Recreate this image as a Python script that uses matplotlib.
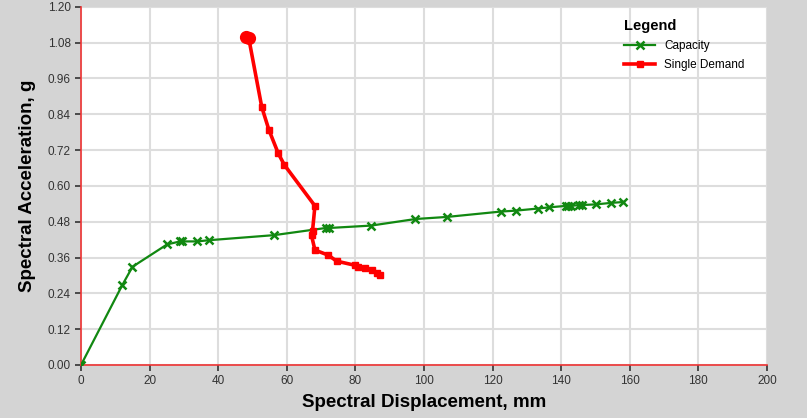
import numpy as np
import matplotlib.pyplot as plt

plt.rcParams['font.family'] = ['Liberation Sans', 'DejaVu Sans']

# Capacity curve (mm, g)
cap_sd = [0.0, 12.0, 15.0, 25.1, 28.9, 29.5, 33.9, 37.3, 56.3, 71.4, 72.4, 84.6,
          97.5, 106.7, 122.4, 126.7, 133.1, 136.4, 141.4, 142.1, 142.8, 145.3,
          146.2, 150.1, 154.5, 158.1]
cap_sa = [0.0, 0.267, 0.329, 0.404, 0.414, 0.414, 0.414, 0.418, 0.435, 0.459, 0.459, 0.467,
          0.489, 0.496, 0.514, 0.517, 0.524, 0.528, 0.533, 0.533, 0.533, 0.536,
          0.536, 0.538, 0.543, 0.546]

# Single demand curve (mm, g)
dem_sd = [48.2, 48.9, 52.7, 54.8, 57.5, 59.3, 68.2, 67.5, 67.2, 68.2, 72.1, 74.5,
          79.9, 80.9, 82.8, 84.7, 86.2, 87.2]
dem_sa = [1.100, 1.095, 0.864, 0.787, 0.709, 0.670, 0.533, 0.449, 0.434, 0.385, 0.368, 0.348,
          0.334, 0.329, 0.324, 0.317, 0.308, 0.302]

xticks = np.arange(0, 201, 20)
yticks = np.arange(0, 1.21, 0.12)

fig = plt.figure(figsize=(8.07, 4.18), dpi=100, facecolor='#d4d4d4')
ax = fig.add_axes([0.1004, 0.1268, 0.85, 0.857])
ax.set_facecolor('white')

ax.plot(cap_sd, cap_sa, color='#118811', lw=1.6, marker='x', ms=5.5, mew=1.8,
        label='Capacity', zorder=3)
ax.plot(dem_sd, dem_sa, color='#ff0000', lw=2.6, marker='s', ms=5,
        label='Single Demand', zorder=4)
ax.plot(dem_sd[:2], dem_sa[:2], color='#ff0000', lw=0, marker='o', ms=8.5, zorder=4)

ax.set_xlim(0, 200)
ax.set_ylim(0, 1.2)
ax.set_xticks(xticks)
ax.set_yticks(yticks)
ax.set_yticklabels(['%.2f' % v for v in yticks])
ax.grid(True, color='#dddddd', lw=1.5)
ax.set_axisbelow(True)

for s in ['top', 'right']:
    ax.spines[s].set_visible(False)
for s in ['left', 'bottom']:
    ax.spines[s].set_color('#ee3333')
    ax.spines[s].set_linewidth(1.2)
ax.tick_params(labelsize=8.5, colors='#333333', length=4, width=1.2)

ax.set_xlabel('Spectral Displacement, mm', fontsize=13.5, fontweight='bold', labelpad=5)
ax.set_ylabel('Spectral Acceleration, g', fontsize=13.5, fontweight='bold', labelpad=8)

leg = ax.legend(loc='upper left', bbox_to_anchor=(0.78, 0.99), frameon=False,
                fontsize=8.5, title='Legend', handlelength=2.6, borderpad=0.2,
                labelspacing=0.6)
leg.get_title().set_fontweight('bold')
leg.get_title().set_fontsize(10.5)
leg._legend_box.align = 'left'

plt.savefig('out.png', dpi=100, facecolor=fig.get_facecolor())
